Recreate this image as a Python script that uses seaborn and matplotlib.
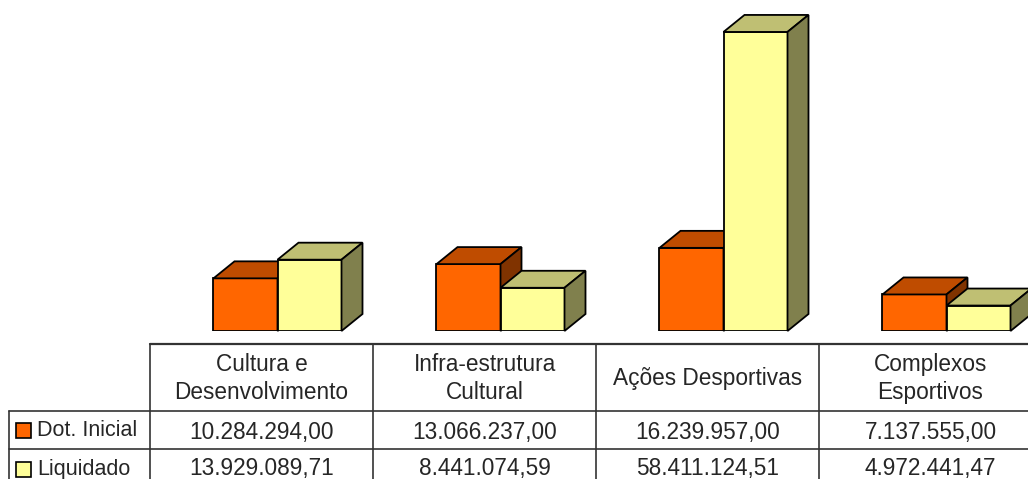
import matplotlib
matplotlib.use("Agg")
import matplotlib.pyplot as plt
from matplotlib.patches import Polygon, Rectangle
import seaborn as sns
import pandas as pd

# dados
categorias = ["Cultura e\nDesenvolvimento", "Infra-estrutura\nCultural",
              "Ações Desportivas", "Complexos\nEsportivos"]
series = ["Dot. Inicial", "Liquidado"]
dot_inicial = [10284294.00, 13066237.00, 16239957.00, 7137555.00]
liquidado = [13929089.71, 8441074.59, 58411124.51, 4972441.47]
rotulos_dot = ["10.284.294,00", "13.066.237,00", "16.239.957,00", "7.137.555,00"]
rotulos_liq = ["13.929.089,71", "8.441.074,59", "58.411.124,51", "4.972.441,47"]

cores = ["#FF6600", "#FFFF99"]
topo = ["#BF4C00", "#BFBF73"]
lado = ["#803300", "#80804D"]

df = pd.DataFrame({
    "cat": categorias * 2,
    "valor": dot_inicial + liquidado,
    "serie": [series[0]] * 4 + [series[1]] * 4,
})

sns.set_style("white")
plt.rcParams["font.family"] = ["Liberation Sans", "DejaVu Sans"]

W, H = 1028, 479
fig = plt.figure(figsize=(W / 100, H / 100), dpi=100)

# eixo das barras (em pixels: x 150..1042, y 0..331)
col_w = 223
x0, base = 150, 331
ax = fig.add_axes([x0 / W, (H - base) / H, 4 * col_w / W, base / H])
sns.barplot(data=df, x="cat", y="valor", hue="serie", hue_order=series,
            palette=cores, width=0.574, edgecolor="black", linewidth=1.3,
            saturation=1, legend=False, ax=ax)
ymax = 64.65e6
shift = 16 / col_w
ax.set_xlim(-0.5 - shift, 3.5 - shift)
ax.set_ylim(0, ymax)
ax.axis("off")

# profundidade 3D
dx = 21 / col_w
dy = 17 / base * ymax
for j, cont in enumerate(ax.containers):
    for r in cont.patches:
        r.set_zorder(2 + 2 * j)
        x, w, h = r.get_x(), r.get_width(), r.get_height()
        top = Polygon([(x, h), (x + w, h), (x + w + dx, h + dy), (x + dx, h + dy)],
                      closed=True, fc=topo[j], ec="black", lw=1.3, zorder=3 + 2 * j,
                      clip_on=False)
        side = Polygon([(x + w, 0), (x + w + dx, dy), (x + w + dx, h + dy), (x + w, h)],
                       closed=True, fc=lado[j], ec="black", lw=1.3, zorder=3 + 2 * j,
                       clip_on=False)
        ax.add_patch(top)
        ax.add_patch(side)

# tabela de dados (coordenadas em pixels)
tb = fig.add_axes([0, 0, 1, 1])
tb.set_xlim(0, W)
tb.set_ylim(H, 0)
tb.axis("off")

lc = "#333333"
y_top, y_r1, y_r2, y_end = 344, 411, 449, 490
x_cols = [x0 + col_w * i for i in range(5)]
tb.plot([x0, W + 20], [y_top, y_top], color=lc, lw=1.6)
tb.plot([9, W + 20], [y_r1, y_r1], color=lc, lw=1.2)
tb.plot([9, W + 20], [y_r2, y_r2], color=lc, lw=1.2)
tb.plot([9, 9], [y_r1, y_end], color=lc, lw=1.2)
for xc in x_cols[:4]:
    tb.plot([xc, xc], [y_top, y_end], color=lc, lw=1.2)

fs = 16.3
for i, c in enumerate(categorias):
    cx = x_cols[i] + col_w / 2
    tb.text(cx, (y_top + y_r1) / 2 + 1, c, ha="center", va="center",
            fontsize=fs, linespacing=1.25)
    tb.text(cx, (y_r1 + y_r2) / 2 + 2, rotulos_dot[i], ha="center", va="center", fontsize=fs)
    tb.text(cx, (y_r2 + y_end) / 2 - 1, rotulos_liq[i], ha="center", va="center", fontsize=fs)

for k, (s, cor) in enumerate(zip(series, cores)):
    yc = (y_r1 + y_r2) / 2 if k == 0 else (y_r2 + y_end) / 2 - 1
    tb.add_patch(Rectangle((16, yc - 7), 15, 15, fc=cor, ec="black", lw=1.2))
    tb.text(37, yc + 1, s, ha="left", va="center", fontsize=15.5)

fig.savefig("out.png", dpi=100)
